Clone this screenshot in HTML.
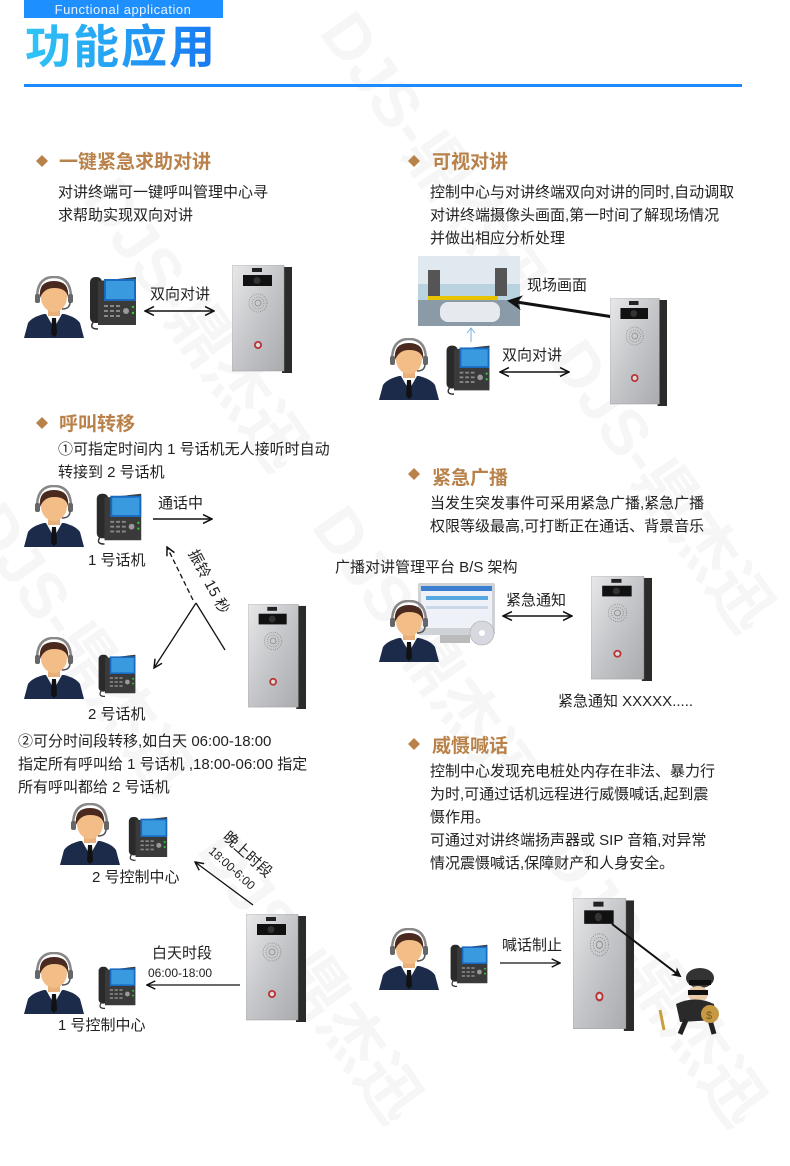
<!DOCTYPE html>
<html><head><meta charset="utf-8"><style>
html,body{margin:0;padding:0;background:#fff;width:790px;height:1166px;overflow:hidden;}
svg{display:block;}
text{font-family:"Liberation Sans","Noto Sans CJK SC",sans-serif;}
.b{font-size:15px;fill:#222;}
.t{font-size:19px;font-weight:bold;fill:#b8824a;}
.l{font-size:15px;fill:#222;}
.wm{font-size:64px;font-weight:bold;fill:#000;opacity:0.03;}
</style></head><body>
<svg width="790" height="1166" viewBox="0 0 790 1166" xmlns="http://www.w3.org/2000/svg">
<defs>
<linearGradient id="tg" x1="0" x2="1" y1="0" y2="0"><stop offset="0" stop-color="#2fc6f6"/><stop offset="1" stop-color="#1877f2"/></linearGradient>
<linearGradient id="sv" x1="0" x2="1" y1="0" y2="1"><stop offset="0" stop-color="#e8e8ea"/><stop offset="0.5" stop-color="#c4c6c9"/><stop offset="1" stop-color="#a9abae"/></linearGradient>
<marker id="ah" viewBox="0 0 10 10" refX="9" refY="5" markerWidth="8" markerHeight="8" orient="auto-start-reverse"><path d="M1,1 L9,5 L1,9" fill="none" stroke="#111" stroke-width="1.4"/></marker>
<marker id="ahb" viewBox="0 0 10 10" refX="8" refY="5" markerWidth="5" markerHeight="5" orient="auto"><path d="M0,0 L10,5 L0,10 L3,5z" fill="#111"/></marker>
<symbol id="person" viewBox="0 0 60 62">
<path d="M0,62 L4,47 Q8,41 20,38 L40,38 Q52,41 56,47 L60,62z" fill="#1d2b4a"/>
<path d="M22,38 L30,52 L38,38z" fill="#fff"/>
<path d="M28,42 L32,42 L33,58 L30,61 L27,58z" fill="#111"/>
<rect x="24" y="30" width="12" height="10" fill="#e8b07a"/>
<ellipse cx="30" cy="21" rx="13" ry="15" fill="#f2bd86"/>
<path d="M16,22 Q14,5 30,5 Q46,5 44,22 Q43,12 30,12 Q20,12 16,22z" fill="#4a2a1f"/>
<path d="M13,22 Q13,1 30,1 Q47,1 47,22" fill="none" stroke="#888" stroke-width="2.5"/>
<rect x="11" y="18" width="5" height="9" rx="2" fill="#666"/><rect x="44" y="18" width="5" height="9" rx="2" fill="#666"/>
<path d="M46,26 Q46,33 38,33" fill="none" stroke="#555" stroke-width="1.5"/>
</symbol>
<symbol id="phone" viewBox="0 0 50 60">
<rect x="2" y="6" width="12" height="46" rx="5" fill="#2a2a2a"/>
<path d="M10,10 L48,6 L48,54 L10,54z" fill="#3a3a3a"/>
<rect x="16" y="8" width="32" height="22" fill="#1a6bbf"/><rect x="18" y="10" width="28" height="18" fill="#3a9ae0"/>
<g fill="#888"><rect x="16" y="34" width="4" height="2"/><rect x="22" y="34" width="4" height="2"/><rect x="28" y="34" width="4" height="2"/><rect x="16" y="39" width="4" height="2"/><rect x="22" y="39" width="4" height="2"/><rect x="28" y="39" width="4" height="2"/><rect x="16" y="44" width="4" height="2"/><rect x="22" y="44" width="4" height="2"/><rect x="28" y="44" width="4" height="2"/></g>
<circle cx="38" cy="40" r="3" fill="#999"/><circle cx="45" cy="36" r="1.2" fill="#3c3"/><circle cx="45" cy="42" r="1.2" fill="#3c3"/>
<path d="M6,50 Q0,58 10,58" fill="none" stroke="#333" stroke-width="1.5"/>
</symbol>
<symbol id="door" viewBox="0 0 60 108" preserveAspectRatio="none">
<rect x="50" y="2" width="10" height="106" fill="#2b2b2b"/>
<rect x="0" y="0" width="52" height="106" fill="url(#sv)" stroke="#999" stroke-width="0.5"/>
<rect x="20" y="3" width="10" height="4" fill="#222"/>
<rect x="11" y="10" width="29" height="11" fill="#111"/><circle cx="25" cy="15.5" r="3.5" fill="#333"/>
<g stroke="#888" stroke-width="0.8"><circle cx="26" cy="38" r="9" fill="none" stroke-dasharray="1 1.2"/><circle cx="26" cy="38" r="6" fill="none" stroke-dasharray="1 1.2"/><circle cx="26" cy="38" r="3" fill="none"/></g>
<circle cx="26" cy="80" r="4" fill="#b33"/><circle cx="26" cy="80" r="2.2" fill="#ddd"/>
</symbol>
</defs>

<!-- watermark -->
<g transform="rotate(55 395 583)">
<text class="wm" x="-100" y="330">DJS-鼎杰迅</text>
<text class="wm" x="300" y="330">DJS-鼎杰迅</text>
<text class="wm" x="-100" y="620">DJS-鼎杰迅</text>
<text class="wm" x="300" y="620">DJS-鼎杰迅</text>
<text class="wm" x="700" y="620">DJS-鼎杰迅</text>
<text class="wm" x="100" y="900">DJS-鼎杰迅</text>
<text class="wm" x="500" y="900">DJS-鼎杰迅</text>
</g>

<!-- header -->
<rect x="24" y="0" width="199" height="18" fill="#1e8fff"/>
<text x="123" y="14" text-anchor="middle" style="font-size:13px;fill:#e8f3ff;letter-spacing:0.5px">Functional application</text>
<text x="25" y="63" style="font-size:46px;font-weight:bold;fill:url(#tg);letter-spacing:2px">功能应用</text>
<rect x="24" y="84" width="718" height="3" fill="#1a8cff"/>

<!-- section 1 -->
<path d="M42,155 L48,161 L42,167 L36,161z" fill="#b8824a"/>
<text class="t" x="59" y="168">一键紧急求助对讲</text>
<text class="b" x="58" y="197">对讲终端可一键呼叫管理中心寻</text>
<text class="b" x="58" y="220">求帮助实现双向对讲</text>
<use href="#person" x="24" y="276" width="60" height="62"/>
<use href="#phone" x="88" y="270" width="50" height="62"/>
<line x1="145" y1="311" x2="214" y2="311" stroke="#111" stroke-width="1.4" marker-start="url(#ah)" marker-end="url(#ah)"/>
<text class="l" x="150" y="299">双向对讲</text>
<use href="#door" x="232" y="265" width="60" height="108"/>

<!-- section 2 -->
<path d="M414,155 L420,161 L414,167 L408,161z" fill="#b8824a"/>
<text class="t" x="432" y="168">可视对讲</text>
<text class="b" x="430" y="197">控制中心与对讲终端双向对讲的同时,自动调取</text>
<text class="b" x="430" y="220">对讲终端摄像头画面,第一时间了解现场情况</text>
<text class="b" x="430" y="243">并做出相应分析处理</text>
<rect x="418" y="256" width="102" height="70" fill="#b9d3e0"/>
<rect x="418" y="256" width="102" height="28" fill="#dfe9ef"/>
<rect x="428" y="270" width="12" height="30" fill="#555"/><rect x="495" y="268" width="12" height="28" fill="#555"/>
<rect x="418" y="300" width="102" height="26" fill="#8a9aa6"/>
<rect x="440" y="302" width="60" height="20" rx="8" fill="#e6eaee"/>
<rect x="428" y="296" width="70" height="4" fill="#e8c400"/>
<text class="l" x="527" y="290">现场画面</text>
<line x1="620" y1="318" x2="510" y2="301" stroke="#111" stroke-width="3" marker-end="url(#ahb)"/>
<line x1="471" y1="342" x2="471" y2="328" stroke="#7aaee0" stroke-width="1"/>
<path d="M467,333 L471,328 L475,333" fill="none" stroke="#7aaee0" stroke-width="1"/>
<use href="#person" x="378" y="338" width="62" height="62"/>
<use href="#phone" x="442" y="340" width="52" height="56"/>
<text class="l" x="502" y="360">双向对讲</text>
<line x1="500" y1="372" x2="569" y2="372" stroke="#111" stroke-width="1.4" marker-start="url(#ah)" marker-end="url(#ah)"/>
<use href="#door" x="610" y="298" width="57" height="108"/>

<!-- section 3 -->
<path d="M42,417 L48,423 L42,429 L36,423z" fill="#b8824a"/>
<text class="t" x="59" y="430">呼叫转移</text>
<text class="b" x="58" y="454">①可指定时间内 1 号话机无人接听时自动</text>
<text class="b" x="58" y="477">转接到 2 号话机</text>
<use href="#person" x="24" y="485" width="60" height="62"/>
<use href="#phone" x="92" y="488" width="54" height="58"/>
<text class="l" x="158" y="508">通话中</text>
<line x1="153" y1="519" x2="212" y2="519" stroke="#111" stroke-width="1.4" marker-end="url(#ah)"/>
<text class="l" x="88" y="565">1 号话机</text>
<line x1="193" y1="600" x2="167" y2="547" stroke="#111" stroke-width="1.3" stroke-dasharray="5 3" marker-end="url(#ah)"/>
<text class="l" transform="translate(188 553) rotate(62)">振铃 15 秒</text>
<line x1="225" y1="650" x2="196" y2="603" stroke="#111" stroke-width="1.3"/>
<line x1="196" y1="603" x2="154" y2="668" stroke="#111" stroke-width="1.3" marker-end="url(#ah)"/>
<use href="#door" x="248" y="604" width="58" height="105"/>
<use href="#person" x="24" y="637" width="60" height="62"/>
<use href="#phone" x="92" y="650" width="50" height="48"/>
<text class="l" x="88" y="719">2 号话机</text>
<text class="b" x="18" y="746">②可分时间段转移,如白天 06:00-18:00</text>
<text class="b" x="18" y="769">指定所有呼叫给 1 号话机 ,18:00-06:00 指定</text>
<text class="b" x="18" y="792">所有呼叫都给 2 号话机</text>
<use href="#person" x="60" y="803" width="60" height="62"/>
<use href="#phone" x="122" y="812" width="52" height="50"/>
<text class="l" x="92" y="882">2 号控制中心</text>
<line x1="253" y1="905" x2="195" y2="862" stroke="#111" stroke-width="1.3" marker-end="url(#ah)"/>
<text class="l" transform="translate(222 838) rotate(42)">晚上时段</text>
<text transform="translate(208 852) rotate(42)" style="font-size:12px;fill:#222">18:00-6:00</text>
<use href="#door" x="246" y="914" width="60" height="108"/>
<use href="#person" x="24" y="952" width="60" height="62"/>
<use href="#phone" x="92" y="962" width="50" height="48"/>
<text class="l" x="152" y="958">白天时段</text>
<text x="148" y="977" style="font-size:12px;fill:#222">06:00-18:00</text>
<line x1="240" y1="985" x2="147" y2="985" stroke="#111" stroke-width="1.3" marker-end="url(#ah)"/>
<text class="l" x="58" y="1030">1 号控制中心</text>

<!-- section 4 -->
<path d="M414,468 L420,474 L414,480 L408,474z" fill="#b8824a"/>
<text class="t" x="432" y="484">紧急广播</text>
<text class="b" x="430" y="508">当发生突发事件可采用紧急广播,紧急广播</text>
<text class="b" x="430" y="531">权限等级最高,可打断正在通话、背景音乐</text>
<text class="l" x="335" y="572">广播对讲管理平台 B/S 架构</text>
<rect x="418" y="583" width="77" height="52" rx="2" fill="#cfd3d8"/>
<rect x="421" y="586" width="71" height="42" fill="#eef2f8"/>
<rect x="421" y="586" width="71" height="5" fill="#3a7fd0"/>
<rect x="426" y="596" width="62" height="4" fill="#58a8e0"/>
<rect x="426" y="606" width="62" height="3" fill="#c9d7e6"/>
<rect x="440" y="635" width="30" height="8" fill="#bbb"/>
<circle cx="482" cy="633" r="12" fill="#d8d8e0" stroke="#aaa" stroke-width="0.6"/><circle cx="482" cy="633" r="3" fill="#fff"/>
<use href="#person" x="378" y="600" width="62" height="62"/>
<text class="l" x="506" y="605">紧急通知</text>
<line x1="503" y1="616" x2="572" y2="616" stroke="#111" stroke-width="1.4" marker-start="url(#ah)" marker-end="url(#ah)"/>
<use href="#door" x="591" y="576" width="61" height="105"/>
<text class="l" x="558" y="706">紧急通知 XXXXX.....</text>

<!-- section 5 -->
<path d="M414,738 L420,744 L414,750 L408,744z" fill="#b8824a"/>
<text class="t" x="432" y="752">威慑喊话</text>
<text class="b" x="430" y="776">控制中心发现充电桩处内存在非法、暴力行</text>
<text class="b" x="430" y="799">为时,可通过话机远程进行威慑喊话,起到震</text>
<text class="b" x="430" y="822">慑作用。</text>
<text class="b" x="430" y="845">可通过对讲终端扬声器或 SIP 音箱,对异常</text>
<text class="b" x="430" y="868">情况震慑喊话,保障财产和人身安全。</text>
<use href="#person" x="378" y="928" width="62" height="62"/>
<use href="#phone" x="443" y="940" width="52" height="48"/>
<text class="l" x="502" y="950">喊话制止</text>
<line x1="500" y1="963" x2="560" y2="963" stroke="#111" stroke-width="1.3" marker-end="url(#ah)"/>
<use href="#door" x="573" y="898" width="61" height="133"/>
<line x1="612" y1="924" x2="680" y2="976" stroke="#111" stroke-width="2" marker-end="url(#ahb)"/>
<!-- thief -->
<ellipse cx="700" cy="978" rx="14" ry="10" fill="#333"/>
<rect x="689" y="980" width="22" height="5" fill="#111"/>
<ellipse cx="698" cy="994" rx="10" ry="8" fill="#e8c9a8"/>
<rect x="688" y="990" width="20" height="5" fill="#111"/>
<path d="M676,1004 Q695,995 714,1004 L716,1020 L680,1022z" fill="#2a2a2a"/>
<path d="M686,1020 L680,1034 M710,1020 L714,1034" stroke="#222" stroke-width="5"/>
<circle cx="710" cy="1014" r="9" fill="#c69a45"/>
<text x="706" y="1019" style="font-size:11px;fill:#7a5a20">$</text>
<path d="M660,1010 L664,1030" stroke="#c9a040" stroke-width="3"/>
</svg>
</body></html>
